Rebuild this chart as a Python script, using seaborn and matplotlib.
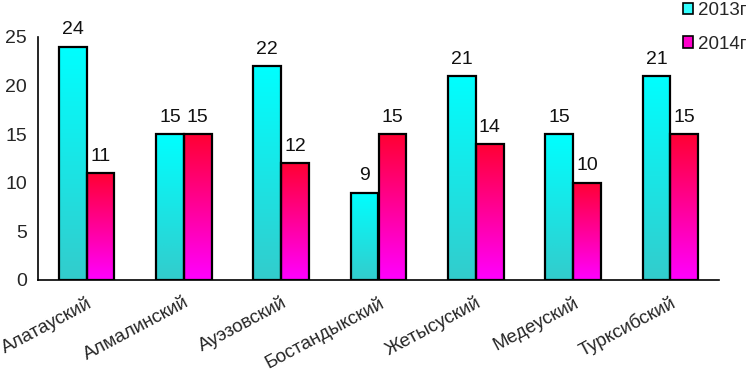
import numpy as np
import pandas as pd
import matplotlib
matplotlib.use('Agg')
import matplotlib.pyplot as plt
import seaborn as sns
from matplotlib.colors import LinearSegmentedColormap
from matplotlib.patches import Patch

# данные
districts = ['Алатауский', 'Алмалинский', 'Ауэзовский', 'Бостандыкский',
             'Жетысуский', 'Медеуский', 'Турксибский']
y2013 = [24, 15, 22, 9, 21, 15, 21]
y2014 = [11, 15, 12, 15, 14, 10, 15]
years = ['2013г', '2014г']

df = pd.DataFrame({'Район': districts * 2,
                   'Значение': y2013 + y2014,
                   'Год': [years[0]] * 7 + [years[1]] * 7})

sns.set_style('white')
plt.rcParams['font.family'] = ['Liberation Sans', 'DejaVu Sans']

fig = plt.figure(figsize=(7.47, 3.73), dpi=100)
ax = fig.add_axes([38 / 747, 1 - 280 / 373, (719 - 38) / 747, (280 - 37) / 373])

sns.barplot(data=df, x='Район', y='Значение', hue='Год', ax=ax,
            palette=['#33FFFF', '#FF00CC'], width=0.57, legend=False,
            edgecolor='black', linewidth=1.6, saturation=1)

# градиентная заливка столбцов
cmaps = [LinearSegmentedColormap.from_list('c', ['#33CCCC', '#00FFFF']),
         LinearSegmentedColormap.from_list('m', ['#FF00FF', '#FF0033'])]
grad = np.linspace(0, 1, 256).reshape(-1, 1)
for i, patch in enumerate(ax.patches):
    x0, y0 = patch.get_x(), patch.get_y()
    w, h = patch.get_width(), patch.get_height()
    patch.set_facecolor('none')
    im = ax.imshow(grad, cmap=cmaps[i // 7], aspect='auto', origin='lower',
                   extent=[x0, x0 + w, y0, y0 + h], zorder=patch.get_zorder() - 0.1)
    im.set_clip_path(patch)

for c in ax.containers:
    ax.bar_label(c, padding=6, fontsize=14, color='#111111')

ax.set_xlim(-0.5, 6.5)
ax.set_ylim(0, 25)
ax.set_yticks(range(0, 26, 5))
ax.set_xticks(np.arange(-0.5, 7, 1), minor=False)
ax.set_xticklabels([])
ax.set_xticks(range(7), minor=True)
ax.set_xticklabels(districts, minor=True, rotation=28, ha='right',
                   rotation_mode='anchor', fontsize=13.5)
ax.tick_params(axis='x', which='minor', length=0, pad=10)
ax.tick_params(axis='y', length=5, direction='out', width=1.2, labelsize=14, pad=3)
ax.set_xlabel('')
ax.set_ylabel('')
for s in ['top', 'right']:
    ax.spines[s].set_visible(False)
for s in ['left', 'bottom']:
    ax.spines[s].set_color('black')
    ax.spines[s].set_linewidth(1.2)
ax.tick_params(axis='x', which='major', direction='out', length=5, width=1.2, color='black')
ax.tick_params(axis='y', color='black')

handles = [Patch(facecolor='#33FFFF', edgecolor='black', linewidth=1.2),
           Patch(facecolor='#FF00CC', edgecolor='black', linewidth=1.2)]
fig.legend(handles, years, loc='upper left', bbox_to_anchor=(681 / 747, 1.0),
           frameon=False, fontsize=13.5, handlelength=0.55, handleheight=0.55,
           handletextpad=0.25, labelspacing=0.9, borderpad=0.1, borderaxespad=0)

fig.savefig('out.png', dpi=100)
